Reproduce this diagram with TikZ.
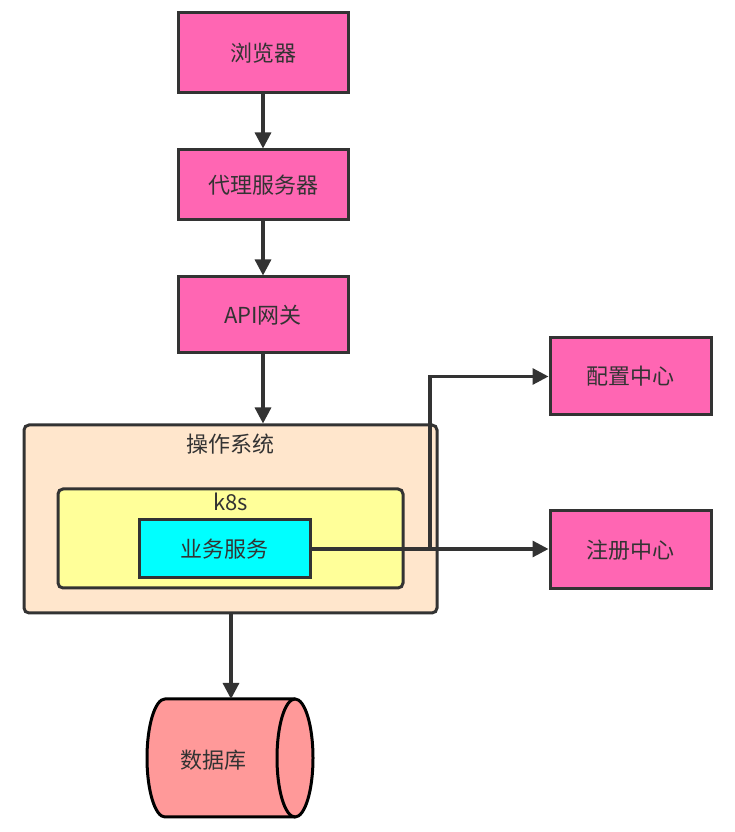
\documentclass[tikz,border=0pt]{standalone}
\usepackage{fontspec}
\setmainfont{Noto Sans CJK SC}
\usetikzlibrary{arrows.meta}
\definecolor{stroke}{HTML}{333333}
\definecolor{pinkbox}{HTML}{FF66B3}
\definecolor{peach}{HTML}{FFE6CC}
\definecolor{lightyellow}{HTML}{FFFF99}
\definecolor{cyanbox}{HTML}{00FFFF}
\definecolor{salmon}{HTML}{FF9999}
\tikzset{
  box/.style={draw=stroke, line width=3pt, rectangle, inner sep=0pt, text=stroke,
    font=\fontsize{22}{26}\selectfont},
  pinkrect/.style={box, fill=pinkbox, minimum width=170pt},
  group/.style={draw=stroke, line width=3pt, rounded corners=5pt, inner sep=0pt},
  lbl/.style={text=stroke, font=\fontsize{22}{26}\selectfont, inner sep=0pt},
  conn/.style={draw=stroke, line width=3.2pt, -{Triangle[length=16pt,width=16pt]}},
}
\begin{document}
\begin{tikzpicture}[x=1pt,y=1pt]
\useasboundingbox (0,0) rectangle (735,832);
% top chain
\node[pinkrect, minimum height=80pt] (browser) at (263,779) {浏览器};
\node[pinkrect, minimum height=70pt] (proxy) at (263,647) {代理服务器};
\node[pinkrect, minimum height=76pt] (api) at (263,517) {API网关};
% right side
\node[box, fill=pinkbox, minimum width=161pt, minimum height=77pt] (config) at (630.5,455.5) {配置中心};
\node[box, fill=pinkbox, minimum width=161pt, minimum height=78pt] (registry) at (630.5,282) {注册中心};
% groups
\node[group, fill=peach, minimum width=413pt, minimum height=188pt] (os) at (230.5,313) {};
\node[lbl, anchor=center] (oslbl) at (230.5,388) {操作系统};
\node[group, fill=lightyellow, minimum width=345pt, minimum height=99pt] (k8s) at (230.5,293.5) {};
\node[lbl, anchor=center] (k8slbl) at (230.5,330) {k8s};
\node[box, fill=cyanbox, minimum width=171pt, minimum height=58pt] (biz) at (224.5,283) {业务服务};
% database cylinder
\coordinate (dbtop) at (231,133);
\fill[salmon] (165,133) -- (295,133) arc[start angle=90,end angle=-90,x radius=18,y radius=59]
  -- (165,15) arc[start angle=270,end angle=90,x radius=18,y radius=59] -- cycle;
\draw[stroke, line width=3pt] (295,133) -- (165,133) arc[start angle=90,end angle=270,x radius=18,y radius=59] -- (295,15);
\draw[stroke, line width=3pt] (295,74) ellipse[x radius=18,y radius=59];
\node[lbl] (db) at (213,72) {数据库};
% connectors
\draw[conn] (browser.south) -- (proxy.north);
\draw[conn] (proxy.south) -- (api.north);
\draw[conn] (api.south) -- (api.south |- os.north);
\draw[conn] (os.south -| dbtop) -- (dbtop);
\draw[conn] (biz.east) -- (biz.east -| registry.west);
\coordinate (junction) at (430,283);
\draw[conn] (junction) |- (config.west);
\end{tikzpicture}
\end{document}
